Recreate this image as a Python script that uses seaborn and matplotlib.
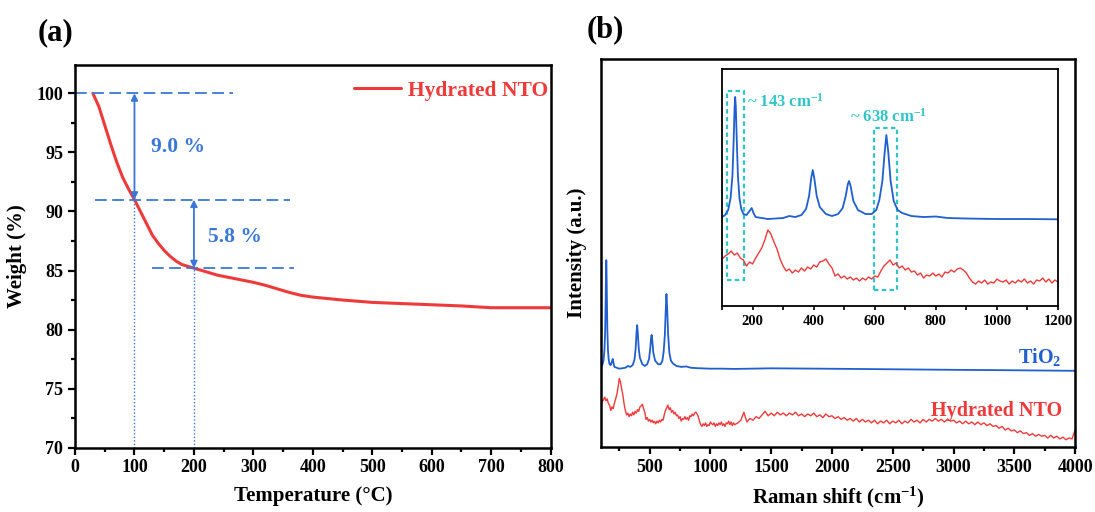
import numpy as np
import matplotlib
matplotlib.use("Agg")
import matplotlib.pyplot as plt
import seaborn as sns
from matplotlib.ticker import MultipleLocator
from matplotlib.patches import Rectangle

# ---------------- data: (a) TGA ----------------
tga_temp = [30, 40, 50, 60, 70, 80, 90, 100, 110, 120, 130, 140, 150, 160, 170, 180,
            190, 200, 220, 240, 260, 280, 300, 320, 340, 360, 380, 400, 450, 500,
            550, 600, 650, 700, 750, 800]
tga_weight = [100, 98.9, 97.3, 95.7, 94.2, 92.9, 91.9, 91.0, 90.0, 89.0, 88.0, 87.3,
              86.7, 86.2, 85.8, 85.5, 85.35, 85.2, 84.9, 84.6, 84.4, 84.2, 84.0, 83.75,
              83.45, 83.15, 82.9, 82.75, 82.5, 82.3, 82.2, 82.1, 82.0, 81.85, 81.85, 81.85]
tga_label = "Hydrated NTO"
step_temps = [100, 200]
step_weights = [100.0, 91.0, 85.2]
step_texts = ["9.0 %", "5.8 %"]

# ---------------- data: (b) Raman (arbitrary intensity units) ----------------
tio2_shift = [100, 110, 120, 128, 134, 138, 141, 143, 145, 148, 152, 157, 163, 170, 180,
              190, 197, 203, 210, 250, 300, 320, 340, 360, 375, 385, 392, 397, 402, 410,
              420, 440, 460, 480, 495, 505, 512, 516, 521, 530, 545, 570, 590, 605, 615,
              625, 632, 638, 644, 652, 662, 675, 690, 720, 760, 800, 840, 900, 1000,
              1100, 1200, 1500, 2000, 2500, 3000, 3500, 4000]
tio2_int = [89, 91, 96, 108, 130, 165, 198, 209, 200, 168, 130, 108, 97, 92, 91,
            95, 98, 93, 89, 87, 88, 90, 89, 91, 97, 110, 128, 136, 128, 110,
            99, 92, 90, 92, 98, 110, 122, 125, 120, 105, 96, 92, 92, 96, 106,
            125, 152, 171, 155, 125, 105, 96, 93, 90, 89, 89.5, 88, 87.5, 87,
            87, 86.7, 87.4, 86.9, 86.3, 85.7, 85.2, 84.6]

nto_shift = np.concatenate([np.arange(100, 1201, 10), np.arange(1225, 4001, 25)])
nto_int = [
    47, 50, 52, 55, 51, 53, 48, 46, 40, 44,
    42, 48, 53, 58, 66, 76, 72, 64, 57, 47,
    40, 35, 37, 33, 36, 34, 38, 35, 39, 37,
    41, 39, 44, 45, 47, 42, 38, 30, 32, 28,
    30, 27, 29, 26, 28, 25, 28, 26, 29, 27,
    30, 29, 35, 40, 43, 46, 41, 43, 38, 40,
    36, 38, 34, 35, 31, 33, 28, 31, 30, 33,
    30, 32, 29, 34, 33, 36, 34, 37, 38, 36,
    33, 28, 24, 22, 25, 23, 26, 22, 24, 23,
    27, 25, 24, 26, 22, 25, 23, 26, 24, 27,
    23, 25, 22, 26, 25, 28, 24, 27, 23, 26,
    24,
    26, 29, 38, 27, 31, 29, 33, 31, 35, 39,
    34, 37, 34, 38, 35, 37, 34, 37, 35, 38,
    34, 36, 33, 36, 34, 37, 33, 35, 32, 36,
    33, 34, 31, 33, 30, 32, 29, 31, 28, 31,
    27, 30, 27, 29, 26, 29, 25, 28, 26, 29,
    25, 28, 26, 29, 25, 28, 26, 30, 27, 29,
    26, 30, 27, 30, 28, 31, 28, 30, 27, 30,
    28, 29, 26, 28, 25, 28, 25, 27, 24, 27,
    24, 26, 23, 25, 22, 23, 20, 22, 18, 20,
    17, 18, 15, 17, 14, 15, 12, 14, 11, 13,
    11, 12, 9, 12, 9, 11, 8, 10, 7, 9,
    8, 18]
raman_labels = ["TiO$_2$", "Hydrated NTO"]
peak_labels = ["~ 143 cm$^{-1}$", "~ 638 cm$^{-1}$"]

# ---------------- style ----------------
sns.set_style("ticks")
plt.rcParams.update({
    "font.family": ["Liberation Serif", "DejaVu Serif"],
    "font.weight": "bold",
    "axes.labelweight": "bold",
    "mathtext.fontset": "custom",
    "mathtext.rm": "Liberation Serif",
    "mathtext.bf": "Liberation Serif:bold",
    "mathtext.it": "Liberation Serif:italic:bold",
    "mathtext.default": "bf",
    "axes.edgecolor": "black",
    "axes.labelcolor": "black",
    "text.color": "black",
    "xtick.color": "black",
    "ytick.color": "black",
    "xtick.labelcolor": "black",
    "ytick.labelcolor": "black",
})

RED = "#EE3A3A"
BLUE = "#1F5FCF"
ABLUE = "#3A78D8"
CYAN = "#2FC4C8"

fig = plt.figure(figsize=(10.95, 5.12), dpi=100)
ax1 = fig.add_axes([0.0685, 0.1256, 0.4344, 0.7475])
ax2 = fig.add_axes([0.5489, 0.1275, 0.4329, 0.7572])
axi = fig.add_axes([0.6594, 0.4023, 0.3068, 0.4629])

# ---------------- (a) ----------------
sns.lineplot(x=tga_temp, y=tga_weight, ax=ax1, color=RED, lw=2.2, label=tga_label)
ax1.set_xlim(0, 800)
ax1.set_ylim(70, 102.4)
ax1.xaxis.set_major_locator(MultipleLocator(100))
ax1.xaxis.set_minor_locator(MultipleLocator(50))
ax1.yaxis.set_major_locator(MultipleLocator(5))
ax1.yaxis.set_minor_locator(MultipleLocator(2.5))
ax1.tick_params(which="both", direction="out", width=1.6, labelsize=13)
ax1.tick_params(which="major", length=5)
ax1.tick_params(which="minor", length=3)
for s in ax1.spines.values():
    s.set_linewidth(1.8)
ax1.set_xlabel("Temperature (°C)", fontsize=15, labelpad=7)
ax1.set_ylabel("Weight (%)", fontsize=15, labelpad=7)

dash = dict(color=ABLUE, lw=1.3, dashes=(6.5, 3.0))
ax1.plot([0, 265], [step_weights[0]] * 2, **dash)
ax1.plot([34, 361], [step_weights[1]] * 2, **dash)
ax1.plot([129, 369], [step_weights[2]] * 2, **dash)
ax1.plot([step_temps[0]] * 2, [70, step_weights[1]], color=ABLUE, lw=1.0, ls=(0, (1, 1.5)))
ax1.plot([step_temps[1]] * 2, [70, step_weights[2]], color=ABLUE, lw=1.0, ls=(0, (1, 1.5)))
for t, top, bot in zip(step_temps, step_weights[:-1], step_weights[1:]):
    ax1.annotate("", xy=(t, top), xytext=(t, bot),
                 arrowprops=dict(arrowstyle="<|-|>", color=ABLUE, lw=1.3,
                                 mutation_scale=10, shrinkA=0, shrinkB=0))
ax1.text(127, 95.45, step_texts[0], color=ABLUE, fontsize=15.5, ha="left", va="center")
ax1.text(224, 87.8, step_texts[1], color=ABLUE, fontsize=15.5, ha="left", va="center")
ax1.legend(loc="upper right", bbox_to_anchor=(1.012, 0.982), frameon=False,
           prop={"size": 15.5, "weight": "bold"},
           labelcolor=RED, handlelength=2.2, handletextpad=0.3, borderaxespad=0.0)

fig.text(0.034, 0.937, "(a)", fontsize=22, fontweight="bold", ha="left", va="center")
fig.text(0.536, 0.942, "(b)", fontsize=22, fontweight="bold", ha="left", va="center")

# ---------------- (b) main ----------------
sns.lineplot(x=tio2_shift, y=tio2_int, ax=ax2, color=BLUE, lw=1.3)
sns.lineplot(x=nto_shift, y=nto_int, ax=ax2, color=RED, lw=1.0)
ax2.set_xlim(100, 4000)
ax2.set_ylim(-0.8, 435.3)
ax2.set_yticks([])
ax2.xaxis.set_major_locator(MultipleLocator(500))
ax2.xaxis.set_minor_locator(MultipleLocator(250))
ax2.tick_params(which="both", direction="out", width=1.6, labelsize=13)
ax2.tick_params(which="major", length=5)
ax2.tick_params(which="minor", length=3)
for s in ax2.spines.values():
    s.set_linewidth(1.8)
ax2.set_xlabel("Raman shift (cm$^{-1}$)", fontsize=15, labelpad=7)
ax2.set_ylabel("Intensity (a.u.)", fontsize=15, labelpad=10)
ax2.text(3890, 100.4, raman_labels[0], color=BLUE, fontsize=14.5, ha="right", va="center")
ax2.text(3890, 39.7, raman_labels[1], color=RED, fontsize=14.5, ha="right", va="center")

# ---------------- (b) inset ----------------
sns.lineplot(x=tio2_shift, y=tio2_int, ax=axi, color=BLUE, lw=1.3)
sns.lineplot(x=nto_shift, y=nto_int, ax=axi, color=RED, lw=1.0)
axi.set_xlim(100, 1200)
axi.set_ylim(0, 237)
axi.set_yticks([])
axi.xaxis.set_major_locator(MultipleLocator(200))
axi.xaxis.set_minor_locator(MultipleLocator(100))
axi.tick_params(which="both", direction="out", width=1.2, length=3, labelsize=10.5)
for s in axi.spines.values():
    s.set_linewidth(1.3)
axi.set_facecolor("white")

for (x0, x1, y0, y1) in [(117, 171, 26, 215), (597, 674, 16, 178)]:
    axi.add_patch(Rectangle((x0, y0), x1 - x0, y1 - y0, fill=False, edgecolor=CYAN,
                            lw=1.6, ls=(0, (2, 1.5))))
axi.text(181, 204, peak_labels[0], color=CYAN, fontsize=12, ha="left", va="center")
axi.text(646, 189, peak_labels[1], color=CYAN, fontsize=12, ha="center", va="center")

fig.savefig("out.png", dpi=100)
